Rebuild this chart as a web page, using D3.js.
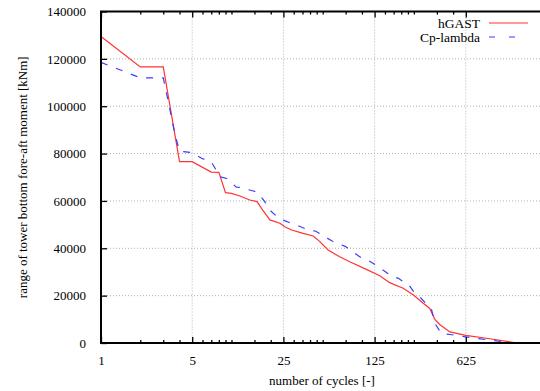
<!DOCTYPE html>
<html>
<head>
<meta charset="utf-8">
<script src="https://cdn.jsdelivr.net/npm/d3@7"></script>
<style>
  body { margin: 0; background: #fff; }
  text { font-family: "Liberation Serif", "Times New Roman", serif; fill: #000; }
</style>
</head>
<body>
<div id="chart"></div>
<script>
// valeurs (cycles cumules, etendue du moment)
const hgastCycles = [1, 2, 3, 4, 5, 7, 8, 9, 10, 11.6, 13.8, 15.7, 17.3, 19.7, 23.5, 25.6, 28.9, 35.4, 42.3, 47.6, 55, 67.5, 80.6, 108, 137, 163, 207, 248, 295, 331, 362, 394, 472, 625, 955, 1550];
const hgastRange  = [129400, 116600, 116600, 76600, 76600, 72200, 72100, 63500, 63200, 62100, 60400, 59700, 56200, 52000, 50600, 49100, 47700, 46300, 45200, 42800, 39300, 36400, 34300, 31100, 28400, 25500, 23100, 20300, 16800, 14600, 10000, 7800, 4700, 3200, 1800, 0];

const cpCycles = [1, 2, 3, 3.2, 3.7, 4, 5, 5.9, 7, 8.2, 9.2, 10.9, 11.6, 14.7, 15.8, 18, 19, 21.9, 24.2, 28.9, 32.5, 39.9, 44, 52, 58.5, 69.6, 75, 88, 99.6, 111, 133, 145, 169, 190, 213, 226, 254, 277, 312, 342, 362, 406, 472, 625, 955, 1450];
const cpRange  = [118500, 112000, 112000, 104700, 87800, 81000, 80400, 78000, 76500, 70200, 69500, 65800, 65700, 64200, 63600, 59700, 56900, 53800, 52200, 50500, 49500, 47400, 47300, 44900, 43200, 41400, 40700, 37900, 35800, 35000, 32300, 30800, 28300, 27300, 25500, 24900, 21000, 19500, 16500, 14000, 8300, 4000, 3600, 2600, 1200, 0];

const xMajor = [1, 5, 25, 125, 625];
const xMinor = [2, 3, 4, 6, 7, 8, 9, 10, 15, 20, 30, 35, 40, 45, 50, 75, 100, 150, 175, 200, 225, 250, 375, 500];
const yTicks = [0, 20000, 40000, 60000, 80000, 100000, 120000, 140000];
const seriesNames = ["hGAST", "Cp-lambda"];

// dimensions : le cadre de droite sort de l'image
const margin = {top: 11.5, right: -17, bottom: 48, left: 101},
    width = 540 - margin.left - margin.right,
    height = 391 - margin.top - margin.bottom;

const svg = d3.select("#chart")
  .append("svg")
  .attr("width", 540)
  .attr("height", 391)
  .style("display", "block")
  .style("overflow", "hidden")
  .append("g")
  .attr("transform", `translate(${margin.left},${margin.top})`);

const x = d3.scaleLog().base(5)
  .domain([1, 3125])
  .range([0, width]);

const y = d3.scaleLinear()
  .domain([0, 140000])
  .range([height, 0]);

// grille pointillee
svg.append("g")
  .selectAll("line.gx")
  .data(xMajor.slice(1))
  .join("line")
  .attr("x1", d => x(d)).attr("x2", d => x(d))
  .attr("y1", 0).attr("y2", height)
  .attr("stroke", "#b0b0b0")
  .attr("stroke-width", 1)
  .attr("stroke-dasharray", "1,2");
svg.append("g")
  .selectAll("line.gy")
  .data(yTicks.slice(1, -1))
  .join("line")
  .attr("x1", 0).attr("x2", width)
  .attr("y1", d => y(d)).attr("y2", d => y(d))
  .attr("stroke", "#b0b0b0")
  .attr("stroke-width", 1)
  .attr("stroke-dasharray", "1,2");

// courbes
const line = d3.line()
  .x(d => x(d[0]))
  .y(d => y(d[1]));

svg.append("path")
  .datum(d3.zip(hgastCycles, hgastRange))
  .attr("fill", "none")
  .attr("stroke", "#ff3333")
  .attr("stroke-width", 1.2)
  .attr("d", line);

svg.append("path")
  .datum(d3.zip(cpCycles, cpRange))
  .attr("fill", "none")
  .attr("stroke", "#3c3cff")
  .attr("stroke-width", 1.2)
  .attr("stroke-dasharray", "7,9")
  .attr("d", line);

// axes et graduations
const styleAxis = g => {
  g.attr("font-family", null);
  g.select(".domain").remove();
  g.selectAll(".tick line").attr("stroke", "#000").attr("stroke-width", 1.3);
  g.selectAll(".tick text").style("font-size", "13px");
};

svg.append("g")
  .attr("transform", `translate(0,${height})`)
  .call(d3.axisBottom(x).tickValues(xMajor).tickFormat(d3.format("d")).tickSize(-6).tickPadding(13))
  .call(styleAxis);
svg.append("g")
  .attr("transform", `translate(0,${height})`)
  .call(d3.axisBottom(x).tickValues(xMinor).tickFormat("").tickSize(-3))
  .call(styleAxis);
svg.append("g")
  .call(d3.axisTop(x).tickValues(xMajor).tickFormat("").tickSize(-6))
  .call(styleAxis);
svg.append("g")
  .call(d3.axisTop(x).tickValues(xMinor).tickFormat("").tickSize(-3))
  .call(styleAxis);
svg.append("g")
  .call(d3.axisLeft(y).tickValues(yTicks).tickFormat(d3.format("d")).tickSize(-6).tickPadding(15))
  .call(styleAxis);

// cadre
svg.append("path")
  .attr("d", `M${width},0H0V${height}H${width}`)
  .attr("fill", "none")
  .attr("stroke", "#000")
  .attr("stroke-width", 2);

// titres des axes
svg.append("text")
  .attr("text-anchor", "middle")
  .attr("x", 322 - margin.left)
  .attr("y", height + 42)
  .style("font-size", "13px")
  .text("number of cycles [-]");
svg.append("text")
  .attr("text-anchor", "middle")
  .attr("transform", `translate(${-74},${height / 2}) rotate(-90)`)
  .style("font-size", "13px")
  .text("range of tower bottom fore-aft moment [kNm]");

// legende
const legend = svg.append("g")
  .attr("transform", `translate(${480 - margin.left},${23 - margin.top})`);
legend.selectAll("text")
  .data(seriesNames)
  .join("text")
  .attr("text-anchor", "end")
  .attr("x", 0)
  .attr("y", (d, i) => i * 14 + 4.5)
  .style("font-size", "13.5px")
  .text(d => d);
legend.selectAll("line")
  .data(seriesNames)
  .join("line")
  .attr("x1", 9).attr("x2", 48)
  .attr("y1", (d, i) => i * 14).attr("y2", (d, i) => i * 14)
  .attr("stroke", (d, i) => i === 0 ? "#ff3333" : "#3c3cff")
  .attr("stroke-width", 1.2)
  .attr("stroke-dasharray", (d, i) => i === 0 ? null : "6,14");
</script>
</body>
</html>
